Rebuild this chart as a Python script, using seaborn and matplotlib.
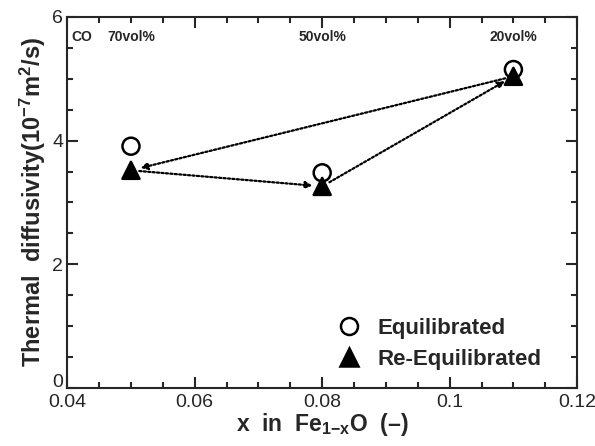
import matplotlib
matplotlib.use('Agg')
import matplotlib.pyplot as plt
import seaborn as sns
import pandas as pd
from matplotlib.ticker import MultipleLocator

# data
x_vals = [0.05, 0.08, 0.11]
equilibrated = [3.91, 3.48, 5.15]
re_equilibrated = [3.52, 3.26, 5.04]
co_labels = ['70vol%', '50vol%', '20vol%']
x_ticks = [0.04, 0.06, 0.08, 0.1, 0.12]
x_ticklabels = ['0.04', '0.06', '0.08', '0.1', '0.12']
y_ticks = [0, 2, 4, 6]

df = pd.DataFrame({
    'x': x_vals * 2,
    'y': equilibrated + re_equilibrated,
    'kind': ['Equilibrated'] * 3 + ['Re-Equilibrated'] * 3,
})

sns.set_style('ticks')
plt.rcParams['font.family'] = ['Liberation Sans', 'DejaVu Sans']
plt.rcParams['mathtext.fontset'] = 'custom'
plt.rcParams['mathtext.rm'] = 'Liberation Sans:bold'
plt.rcParams['mathtext.bf'] = 'Liberation Sans:bold'
plt.rcParams['mathtext.it'] = 'Liberation Sans:bold'
plt.rcParams['mathtext.default'] = 'rm'

fig = plt.figure(figsize=(5.95, 4.46), dpi=100)
ax = fig.add_axes([0.113, 0.130, 0.857, 0.832])

# dotted arrows: 0.05 -> 0.08 -> 0.11 -> 0.05 (re-equilibrated points)
order = [(0, 1), (1, 2), (2, 0)]
for i, j in order:
    ax.annotate('', xy=(x_vals[j], re_equilibrated[j]),
                xytext=(x_vals[i], re_equilibrated[i]),
                arrowprops=dict(arrowstyle='-|>', linestyle=(0, (1, 1)),
                                lw=1.6, color='black', shrinkA=6, shrinkB=7,
                                mutation_scale=10))

sns.scatterplot(data=df, x='x', y='y', style='kind',
                markers={'Equilibrated': 'o', 'Re-Equilibrated': '^'},
                hue='kind', palette={'Equilibrated': 'white', 'Re-Equilibrated': 'black'},
                edgecolor='black', linewidth=1.8, s=150, ax=ax, zorder=5)

for xv, lab in zip(x_vals, co_labels):
    ax.text(xv, 5.67, lab, ha='center', va='center', fontsize=10, fontweight='bold')
ax.text(0.0407, 5.67, 'CO', ha='left', va='center', fontsize=10, fontweight='bold')

ax.set_xlim(0.04, 0.12)
ax.set_ylim(0, 6)
ax.set_xticks(x_ticks)
ax.set_xticklabels(x_ticklabels)
ax.xaxis.set_minor_locator(MultipleLocator(0.005))
ax.set_yticks(y_ticks)
# the "0" is drawn separately, lifted above the "0.04" of the x axis
ax.set_yticklabels([''] + [str(v) for v in y_ticks[1:]])
ax.yaxis.set_minor_locator(MultipleLocator(0.5))
ax.tick_params(which='both', direction='in', top=True, right=True, width=1.5)
ax.tick_params(which='major', length=8, labelsize=14)
ax.tick_params(axis='x', which='major', pad=4)
ax.tick_params(axis='y', which='major', pad=3)
ax.tick_params(which='minor', length=4)
for sp in ax.spines.values():
    sp.set_linewidth(1.5)

ax.annotate(str(y_ticks[0]), xy=(0, 0), xycoords='axes fraction',
            xytext=(-3, 4), textcoords='offset points',
            ha='right', va='center', fontsize=14)

ax.set_xlabel('x  in  Fe$_{1{-}x}$O  (–)', fontsize=16.5, fontweight='bold', labelpad=0)
ax.set_ylabel('Thermal  diffusivity(10$^{-7}$m$^{2}$/s)', fontsize=17, fontweight='bold', labelpad=3)

handles, labels = ax.get_legend_handles_labels()
leg = ax.legend(handles, labels, loc='lower right', bbox_to_anchor=(0.97, -0.005),
                frameon=False, prop={'weight': 'bold', 'size': 16},
                handletextpad=0.3, labelspacing=0.45, markerscale=1.0)

fig.savefig('out.png', dpi=100)
